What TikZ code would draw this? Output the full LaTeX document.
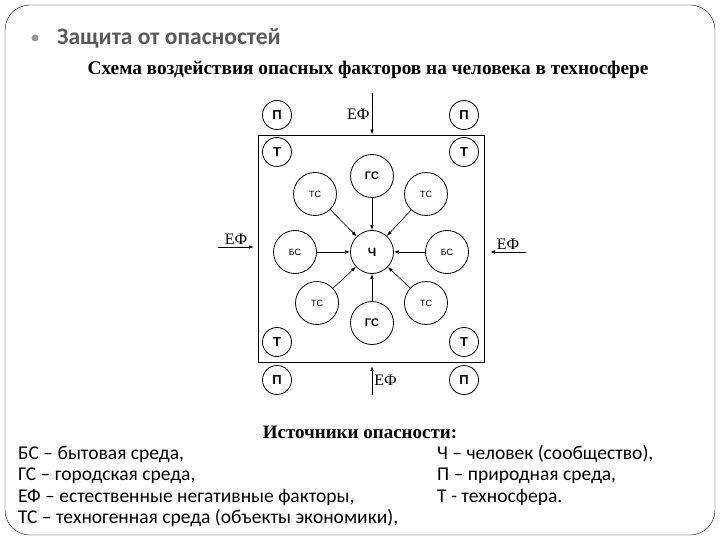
\documentclass[tikz,border=0pt]{standalone}
\usepackage{fontspec}
\setmainfont{Liberation Serif}
\newfontfamily\calfont{Carlito}
\newfontfamily\circfont{Liberation Sans}
\usetikzlibrary{arrows.meta,positioning}

\begin{document}
\begin{tikzpicture}[
  x=1pt,y=-1pt,
  env/.style={circle,draw,thick,minimum size=43pt,inner sep=0pt,font=\circfont\fontsize{9}{9}\selectfont},
  zone/.style={circle,draw,thick,minimum size=29pt,inner sep=0pt,font=\circfont\bfseries\fontsize{13}{13}\selectfont},
  hit/.style={-{Latex[length=5pt,width=3.5pt]},semithick},
  ef/.style={-{Latex[length=5pt,width=3.5pt]},thick},
  eflabel/.style={font=\fontsize{16}{16}\selectfont,inner sep=2pt},
  legend/.style={anchor=base west,inner sep=0pt,font=\calfont\fontsize{19.5}{19.5}\selectfont}
]
  \useasboundingbox (0,0) rectangle (720,540);
  \draw[rounded corners=25pt] (5,5) rectangle (715,535);

  % heading
  \fill[gray!80] (35,38) circle (3.5pt);
  \node[anchor=west,inner sep=0pt,text=black!65,font=\calfont\bfseries\fontsize{23.5}{23.5}\selectfont] (head) at (57,38) {Защита от опасностей};
  \node[font=\bfseries\fontsize{19.3}{19.3}\selectfont] (sub) at (368,70) {Схема воздействия опасных факторов на человека в техносфере};

  % technosphere
  \node[draw,thick,minimum width=226pt,minimum height=227pt] (sphere) at (371,248.5) {};

  \node[zone] (pTL) at (277,115) {П};
  \node[zone] (pTR) at (464,115) {П};
  \node[zone] (tTL) at (277,152) {Т};
  \node[zone] (tTR) at (464,152) {Т};
  \node[zone] (tBL) at (277,342) {Т};
  \node[zone] (tBR) at (464,342) {Т};
  \node[zone] (pBL) at (277,380) {П};
  \node[zone] (pBR) at (464,380) {П};

  \node[env,font=\circfont\bfseries\fontsize{12}{12}\selectfont] (ch) at (372,252) {Ч};
  \node[env,font=\circfont\bfseries\fontsize{11}{11}\selectfont] (gsT) at (372,176) {ГС};
  \node[env,font=\circfont\bfseries\fontsize{11}{11}\selectfont] (gsB) at (372,323) {ГС};
  \node[env] (tsTL) at (315,194) {ТС};
  \node[env] (tsTR) at (426,194) {ТС};
  \node[env] (tsBL) at (317,303) {ТС};
  \node[env] (tsBR) at (426,303) {ТС};
  \node[env] (bsL) at (295,252) {БС};
  \node[env] (bsR) at (447,252) {БС};

  \foreach \src in {gsT,gsB,tsTL,tsTR,tsBL,tsBR,bsL,bsR}
    \draw[hit] (\src) -- (ch);

  % external factors
  \coordinate (efT) at (372,93);
  \coordinate (efB) at (372,395);
  \coordinate (efBe) at (372,366);
  \coordinate (efL) at (218,247);
  \coordinate (efLe) at (254,247);
  \coordinate (efR) at (526,252);
  \coordinate (efRe) at (490,252);
  \draw[ef] (efT) -- node[eflabel,left] {ЕФ} (efT |- sphere.north);
  \draw[ef] (efB) -- node[eflabel,right] {ЕФ} (efBe);
  \draw[ef] (efL) -- node[eflabel,above] {ЕФ} (efLe);
  \draw[ef] (efR) -- node[eflabel,above] {ЕФ} (efRe);

  % legend
  \node[font=\bfseries\fontsize{19}{19}\selectfont] (src) at (360,432) {Источники опасности:};
  \node[legend] (lBS) at (18,459) {БС – бытовая среда,};
  \node[legend] (lGS) at (18,480) {ГС – городская среда,};
  \node[legend] (lEF) at (18,502) {ЕФ – естественные негативные факторы,};
  \node[legend] (lTS) at (18,523) {ТС – техногенная среда (объекты экономики),};
  \node[legend] (lCh) at (437,459) {Ч – человек (сообщество),};
  \node[legend] (lP) at (437,480) {П – природная среда,};
  \node[legend] (lT) at (437,502) {Т - техносфера.};
\end{tikzpicture}
\end{document}
